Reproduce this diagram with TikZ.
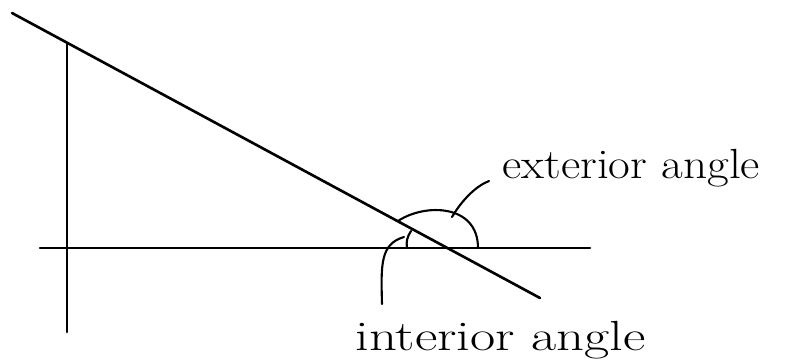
\documentclass[tikz,border=0pt]{standalone}
\usepackage{tikz}
\tikzset{pen/.style={line width=1.5pt, line cap=round}}
\tikzset{label text/.style={anchor=base west, inner sep=0pt, font=\fontsize{24}{28}\selectfont}}

\begin{document}
\begin{tikzpicture}[
		x=0.02cm, y=-0.02cm,
		thin pen/.style={pen, line width=1.2pt}
		]    % units are pixels of the sketch, y points down
		\useasboundingbox (0,0) rectangle (787,362);
		% the three lines
		\coordinate (hypA) at (12,13);
		\coordinate (hypB) at (540,298);
		\coordinate (vertTop) at (67,43);
		\coordinate (vertBot) at (67,332);
		\coordinate (baseL) at (40,248);
		\coordinate (baseR) at (590,248);
		\draw[pen] (hypA) -- (hypB);
		\draw[pen] (vertTop) -- (vertBot);
		\draw[pen] (baseL) -- (baseR);
		% angle marks
		\coordinate (intArcTop) at (411,231);
		\coordinate (intArcBot) at (407,248);
		\draw[thin pen] (intArcTop) .. controls (407,237) and (406,242) .. (intArcBot);
		\coordinate (extStart) at (398,221);
		\coordinate (extEnd) at (478,248);
		\coordinate (extTop) at (452,217);
		\draw[thin pen] (extStart) .. controls (425,203) and (478,204) .. (extEnd);
		% labels
		\node[label text, xscale=1.12] (extLabel) at (502,178) {exterior angle};
		\node[label text, xscale=1.3] (intLabel) at (355,350) {interior angle};
		\coordinate (extTip) at (489,181);
		\coordinate (intStart) at (404,237);
		\coordinate (intTip) at (382,304);
		\draw[thin pen] (extTop) .. controls (462,200) and (476,186) .. (extTip);
		\draw[thin pen] (intStart) .. controls (380,244) and (381,265) .. (intTip);
	\end{tikzpicture}
\end{document}
